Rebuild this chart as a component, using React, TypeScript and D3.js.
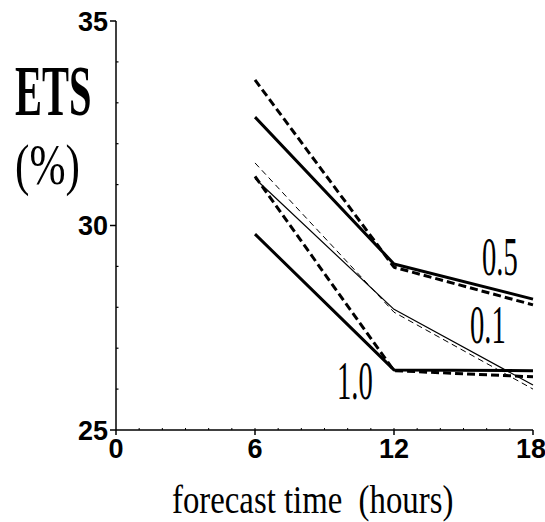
import React from "react";
import * as d3 from "d3";

const hours = [6, 12, 18];
const ets05Solid = [32.65, 29.06, 28.2];
const ets05Dashed = [33.56, 28.98, 28.06];
const ets01Solid = [31.15, 27.95, 26.1];
const ets01Dashed = [31.53, 27.88, 26.0];
const ets10Solid = [29.79, 26.47, 26.45];
const ets10Dashed = [31.2, 26.45, 26.3];

const xTicks = [0, 6, 12, 18];
const yTicks = [25, 30, 35];
const yMinor = [26, 27, 28, 29, 31, 32, 33, 34];
const xMinor = d3.range(1, 18);

const W = 545;
const H = 522;

export default function App() {
  const x = d3.scaleLinear().domain([0, 18]).range([116, 533]);
  const y = d3.scaleLinear().domain([25, 35]).range([430, 21]);
  const line = d3
    .line<number>()
    .x((_, i) => x(hours[i]))
    .y((d) => y(d));

  const series = [
    { v: ets05Solid, w: 3, dash: "" },
    { v: ets05Dashed, w: 3, dash: "8 4" },
    { v: ets01Solid, w: 1.2, dash: "" },
    { v: ets01Dashed, w: 1, dash: "6 4" },
    { v: ets10Solid, w: 3, dash: "" },
    { v: ets10Dashed, w: 3, dash: "8 4" },
  ];

  const serif = "'Liberation Serif', 'Times New Roman', serif";
  const sans = "'Liberation Sans', Arial, sans-serif";

  return (
    <svg
      width={W}
      height={H}
      style={{ position: "absolute", left: 0, top: 0, background: "#fff" }}
    >
      <rect width={W} height={H} fill="#fff" />
      {/* axes */}
      <line x1={x(0)} x2={x(0)} y1={y(35)} y2={y(25)} stroke="#000" strokeWidth={1.5} />
      <line x1={x(0)} x2={x(18)} y1={y(25)} y2={y(25)} stroke="#000" strokeWidth={1.5} />
      {yTicks.map((t) => (
        <g key={"yt" + t}>
          <line x1={x(0) - 6} x2={x(0)} y1={y(t)} y2={y(t)} stroke="#000" strokeWidth={1.5} />
          <text
            x={x(0) - 8}
            y={y(t) + 9.5}
            textAnchor="end"
            fontFamily={sans}
            fontWeight="bold"
            fontSize={27}
          >
            {t}
          </text>
        </g>
      ))}
      {yMinor.map((t) => (
        <line key={"ym" + t} x1={x(0)} x2={x(0) + 2.5} y1={y(t)} y2={y(t)} stroke="#000" strokeWidth={1.2} />
      ))}
      {xMinor.map((t) => (
        <line key={"xm" + t} x1={x(t)} x2={x(t)} y1={y(25)} y2={y(25) - 2} stroke="#000" strokeWidth={1} />
      ))}
      {xTicks.map((t) => (
        <g key={"xt" + t}>
          <line x1={x(t)} x2={x(t)} y1={y(25)} y2={y(25) + 5} stroke="#000" strokeWidth={1.5} />
          <text
            x={x(t) - (t === 18 ? 2 : 0)}
            y={y(25) + 28}
            textAnchor="middle"
            fontFamily={sans}
            fontWeight="bold"
            fontSize={27}
          >
            {t}
          </text>
        </g>
      ))}
      {/* series */}
      {series.map((s, i) => (
        <path
          key={"s" + i}
          d={line(s.v) || ""}
          fill="none"
          stroke="#000"
          strokeWidth={s.w}
          strokeDasharray={s.dash || undefined}
          strokeLinejoin="round"
        />
      ))}
      {/* series labels */}
      <text transform="translate(482,275) scale(0.52,1)" fontFamily={serif} fontSize={55}>
        0.5
      </text>
      <text transform="translate(470,343) scale(0.52,1)" fontFamily={serif} fontSize={55}>
        0.1
      </text>
      <text transform="translate(337,399) scale(0.52,1)" fontFamily={serif} fontSize={55}>
        1.0
      </text>
      {/* y title */}
      <text transform="translate(15,115) scale(0.57,1)" fontFamily={serif} fontWeight="bold" fontSize={71}>
        ETS
      </text>
      <text transform="translate(15,184) scale(0.76,1)" fontFamily={serif} fontSize={57}>
        (%)
      </text>
      {/* x title */}
      <text
        transform="translate(172,513) scale(0.82,1)"
        fontFamily={serif}
        fontSize={40}
        style={{ whiteSpace: "pre" }}
      >
        {"forecast time  (hours)"}
      </text>
    </svg>
  );
}
